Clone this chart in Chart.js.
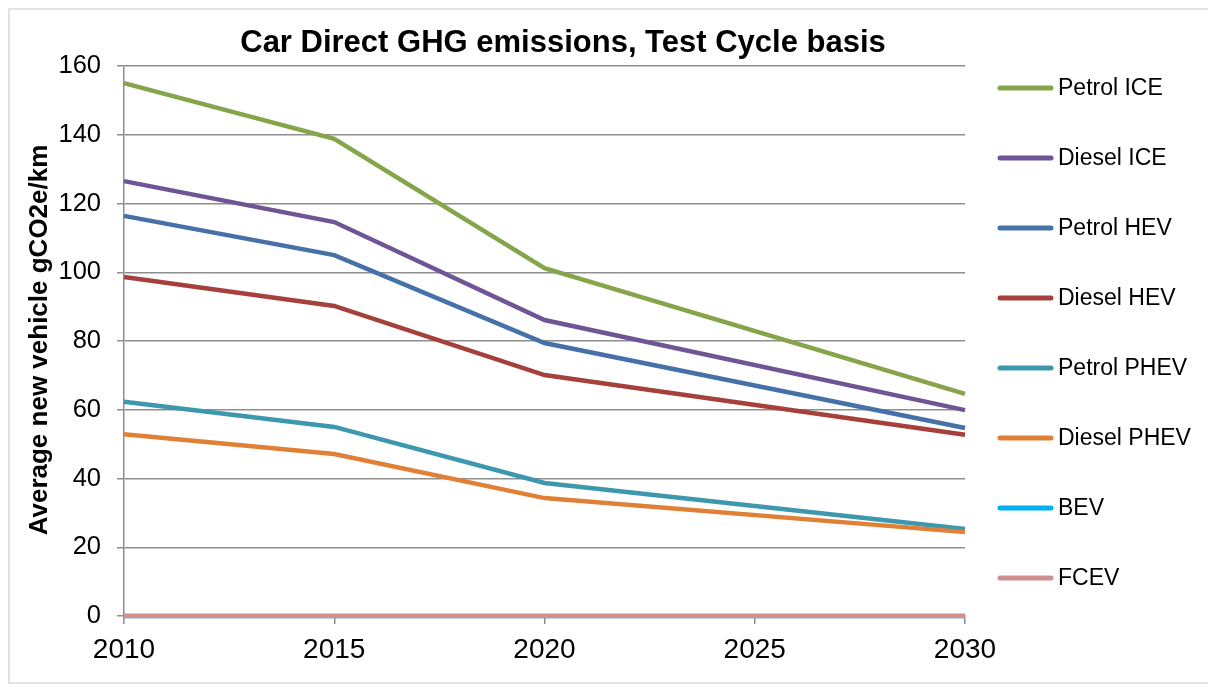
<!DOCTYPE html>
<html lang="en">
<head>
    <meta charset="UTF-8">
    <title>Car Direct GHG emissions</title>
    <script src="https://cdn.jsdelivr.net/npm/chart.js"></script>
    <style>
        html, body { margin: 0; padding: 0; background: #fff; }
        #wrap { position: relative; width: 1208px; height: 687px; }
    </style>
</head>
<body>
    <div id="wrap"><canvas id="myChart" width="1208" height="687"></canvas></div>
    <script>
        var years = [2010, 2015, 2020, 2030];
        var petrolICE = [155, 138.8, 101.2, 64.6];
        var dieselICE = [126.5, 114.6, 86.1, 59.9];
        var petrolHEV = [116.4, 105, 79.4, 54.7];
        var dieselHEV = [98.6, 90.2, 70.1, 52.7];
        var petrolPHEV = [62.3, 55, 38.7, 25.3];
        var dieselPHEV = [52.9, 47.1, 34.3, 24.4];
        var bev = [0, 0, 0, 0];
        var fcev = [0, 0, 0, 0];

        var seriesNames = ['Petrol ICE', 'Diesel ICE', 'Petrol HEV', 'Diesel HEV',
                           'Petrol PHEV', 'Diesel PHEV', 'BEV', 'FCEV'];
        var seriesValues = [petrolICE, dieselICE, petrolHEV, dieselHEV,
                            petrolPHEV, dieselPHEV, bev, fcev];
        var seriesColors = ['#86a44a', '#6f5595', '#4571a8', '#a5403d',
                            '#3d97ad', '#df8036', '#00b0f0', '#d09090'];

        var chartTitle = 'Car Direct GHG emissions, Test Cycle basis';
        var yTitle = 'Average new vehicle gCO2e/km';

        var datasets = seriesNames.map(function(name, i) {
            return {
                label: name,
                data: years.map(function(y, j) { return { x: y, y: seriesValues[i][j] }; }),
                borderColor: seriesColors[i],
                backgroundColor: seriesColors[i],
                borderWidth: 4.5,
                pointRadius: 0,
                tension: 0,
                clip: 6,
                order: seriesNames.length - i
            };
        });

        // frame, title, y-axis title and legend drawn by hand
        var decor = {
            id: 'decor',
            beforeDraw: function(chart) {
                var ctx = chart.ctx;
                ctx.save();
                ctx.fillStyle = '#fff';
                ctx.fillRect(0, 0, chart.width, chart.height);
                ctx.strokeStyle = '#d9d9d9';
                ctx.lineWidth = 1.5;
                ctx.strokeRect(9, 9, 1210, 674);
                ctx.restore();
            },
            afterDraw: function(chart) {
                var ctx = chart.ctx;
                ctx.save();
                ctx.fillStyle = '#000';
                ctx.font = 'bold 31px "Liberation Sans", Arial, sans-serif';
                ctx.textAlign = 'center';
                ctx.textBaseline = 'alphabetic';
                ctx.fillText(chartTitle, 563, 52);

                ctx.save();
                ctx.translate(47, 340);
                ctx.rotate(-Math.PI / 2);
                ctx.font = 'bold 26px "Liberation Sans", Arial, sans-serif';
                ctx.fillText(yTitle, 0, 0);
                ctx.restore();

                ctx.font = '23px "Liberation Sans", Arial, sans-serif';
                ctx.textAlign = 'left';
                ctx.textBaseline = 'middle';
                ctx.lineCap = 'round';
                chart.data.datasets.forEach(function(ds, i) {
                    var y = 88 + 70 * i;
                    ctx.strokeStyle = ds.borderColor;
                    ctx.lineWidth = 5;
                    ctx.beginPath();
                    ctx.moveTo(1000, y);
                    ctx.lineTo(1051, y);
                    ctx.stroke();
                    ctx.fillStyle = '#000';
                    ctx.fillText(ds.label, 1058, y + 1);
                });
                ctx.restore();
            }
        };

        var ctx = document.getElementById('myChart').getContext('2d');
        var myChart = new Chart(ctx, {
            type: 'line',
            data: { datasets: datasets },
            plugins: [decor],
            options: {
                responsive: false,
                animation: false,
                layout: { padding: { top: 66, right: 243, left: 0, bottom: 0 } },
                plugins: {
                    legend: { display: false },
                    title: { display: false },
                    tooltip: { enabled: false }
                },
                scales: {
                    x: {
                        type: 'linear',
                        min: 2010,
                        max: 2030,
                        ticks: {
                            stepSize: 5,
                            color: '#000',
                            padding: 9,
                            maxRotation: 0,
                            font: { family: '"Liberation Sans", Arial, sans-serif', size: 28 },
                            callback: function(v) { return String(v); }
                        },
                        grid: {
                            drawOnChartArea: false,
                            drawTicks: true,
                            tickLength: 8,
                            color: '#8e8e8e',
                            lineWidth: 1.5
                        },
                        border: { display: true, color: '#8e8e8e', width: 1.5 },
                        afterFit: function(scale) { scale.height = 71; }
                    },
                    y: {
                        min: 0,
                        max: 160,
                        ticks: {
                            stepSize: 20,
                            color: '#000',
                            padding: 16,
                            font: { family: '"Liberation Sans", Arial, sans-serif', size: 25.5 }
                        },
                        grid: {
                            color: '#8e8e8e',
                            lineWidth: 1.5,
                            tickLength: 7
                        },
                        border: { display: true, color: '#8e8e8e', width: 1.5 },
                        afterFit: function(scale) { scale.width = 124; }
                    }
                }
            }
        });
    </script>
</body>
</html>
